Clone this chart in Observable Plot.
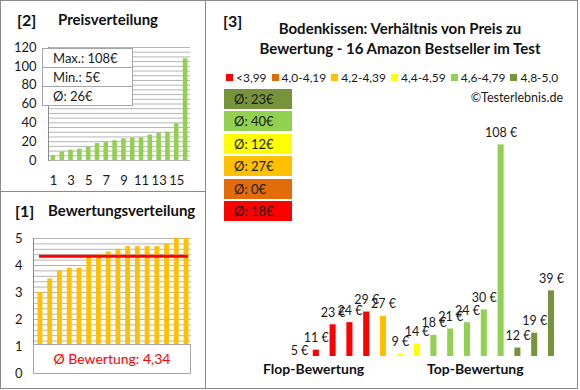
<!DOCTYPE html>
<html><head><meta charset="utf-8">
<script src="https://cdn.jsdelivr.net/npm/d3@7"></script>
<script src="https://cdn.jsdelivr.net/npm/@observablehq/plot@0.6"></script>
<style>
body{margin:0;background:#fff;font-family:Lato,sans-serif;color:#1a1a1a}
#root{position:relative;width:580px;height:390px;overflow:hidden;background:#fff}
.panel{position:absolute;box-sizing:border-box;border:1px solid #8a8a8a}
.abs{position:absolute;white-space:nowrap;line-height:1}
.title{font-weight:bold;font-size:15px;color:#111}
#root svg{position:absolute}
.stats{position:absolute;left:42px;top:48px;width:91px;box-sizing:border-box;background:#fff;border:1px solid #a6a6a6;font-size:13px}
.stats div{height:18px;line-height:18px;padding-left:10px;border-bottom:1px solid #a6a6a6}
.stats div:last-child{border-bottom:none}
.meanbox{position:absolute;left:33px;top:344px;width:158px;height:30px;box-sizing:border-box;background:#fff;border:1px solid #a6a6a6;color:#FF0000;font-size:14px;text-align:center;line-height:28px}
.legend{position:absolute;left:226px;top:71px;display:flex;gap:5px;font-size:12px;line-height:14px;white-space:nowrap}
.legend span.sw{display:inline-block;width:7px;height:7px;margin-right:3px;vertical-align:1px}
.avgs{position:absolute;left:224px;top:89px;width:68px}
.avgs div{height:20px;line-height:20px;margin-bottom:2.4px;padding-left:10px;font-size:13px;color:#1a1a1a}
</style></head><body><div id="root"></div>
<script>
// ---- data ----
const ratings = [3.0, 3.5, 3.8, 3.9, 3.9, 4.3, 4.4, 4.5, 4.6, 4.7, 4.7, 4.7, 4.7, 4.8, 5.0, 5.0];
const prices  = [5, 11, 23, 24, 29, 27, 9, 14, 18, 21, 24, 30, 108, 12, 19, 39];
const classLabels = ["<3,99", "4,0-4,19", "4,2-4,39", "4,4-4,59", "4,6-4,79", "4,8-5,0"];
const classLower  = [0, 4.0, 4.2, 4.4, 4.6, 4.8];
const classColors = ["#FF0000", "#E36C0A", "#FFC000", "#FFFF00", "#92D050", "#77933C"];
const priceTicks  = [0, 20, 40, 60, 80, 100, 120];
const ratingTicks = [0, 1, 2, 3, 4, 5];
const rankTicks   = [1, 3, 5, 7, 9, 11, 13, 15];
const sideLabels  = ["Flop-Bewertung", "Top-Bewertung"];

// ---- derived ----
const n = prices.length;
const ranks = d3.range(1, n + 1);
const pricesSorted = prices.slice().sort(d3.ascending);
const ratingsSorted = ratings.slice().sort(d3.ascending);
const classOf = r => d3.max(classLower.map((l, i) => r >= l - 1e-9 ? i : -1));
const products = prices.map((p, i) => ({i, price: p, rating: ratings[i], cls: classOf(ratings[i])}));
const classAvg = classLabels.map((_, c) => {
  const v = products.filter(d => d.cls === c).map(d => d.price);
  return v.length ? Math.round(d3.mean(v)) : 0;
});
const priceMax = d3.max(prices), priceMin = d3.min(prices), priceMean = Math.round(d3.mean(prices));
const ratingMean = d3.mean(ratings);

const root = document.getElementById("root");
function add(html) { root.insertAdjacentHTML("beforeend", html); }
function place(el, left, top) { el.style.left = left + "px"; el.style.top = top + "px"; root.appendChild(el); }

// panels
add(`<div class="panel" style="left:0;top:0;width:206px;height:192px"></div>`);
add(`<div class="panel" style="left:0;top:191px;width:206px;height:198px"></div>`);
add(`<div class="panel" style="left:205px;top:0;width:373px;height:389px"></div>`);

const font = {fontFamily: "Lato, sans-serif", fontSize: "13px", color: "#1a1a1a", background: "transparent", overflow: "visible"};

// [2] Preisverteilung
const chart2 = Plot.plot({
  width: 205, height: 190, marginLeft: 48, marginRight: 15, marginTop: 47, marginBottom: 30,
  style: font,
  x: {type: "band", domain: ranks, paddingInner: 0.48, paddingOuter: 0.3, round: false, label: null},
  y: {domain: [0, 120], label: null},
  marks: [
    Plot.ruleY(d3.range(0, 121, 5), {stroke: "#b4b4b4"}),
    Plot.barY(pricesSorted.map((p, i) => ({rank: i + 1, price: p})), {x: "rank", y: "price", fill: "#92D050"}),
    Plot.axisY(priceTicks, {tickSize: 0, tickPadding: 12, fontSize: 13, label: null}),
    Plot.axisX(rankTicks, {tickSize: 0, tickPadding: 15, fontSize: 13, label: null}),
    Plot.frame({anchor: "left", stroke: "#8a8a8a"})
  ]
});
place(chart2, 0, 0);
add(`<div class="abs title" style="left:17px;top:12px;font-size:16px">[2]</div>`);
add(`<div class="abs title" style="left:58px;top:12px">Preisverteilung</div>`);
add(`<div class="stats"><div>Max.: ${priceMax}€</div><div>Min.: ${priceMin}€</div><div>Ø: ${priceMean}€</div></div>`);

// [1] Bewertungsverteilung
const chart1 = Plot.plot({
  width: 205, height: 197, marginLeft: 33, marginRight: 14, marginTop: 47, marginBottom: 15,
  style: font,
  x: {type: "band", domain: ranks, paddingInner: 0.5, paddingOuter: 0.26, round: false, insetLeft: 2, axis: null},
  y: {domain: [0, 5], label: null},
  marks: [
    Plot.ruleY(d3.range(0, 5.001, 0.2), {stroke: "#b4b4b4"}),
    Plot.barY(ratingsSorted.map((r, i) => ({rank: i + 1, rating: r})), {x: "rank", y: "rating", fill: "#FFC000"}),
    Plot.ruleY([ratingMean], {stroke: "#FF0000", strokeWidth: 3, insetLeft: 6, insetRight: 3}),
    Plot.axisY(ratingTicks, {tickSize: 0, tickPadding: 11, fontSize: 13, label: null}),
    Plot.frame({anchor: "left", stroke: "#8a8a8a"})
  ]
});
place(chart1, 0, 191);
add(`<div class="abs title" style="left:15px;top:203px;font-size:16px">[1]</div>`);
add(`<div class="abs title" style="left:48px;top:203px">Bewertungsverteilung</div>`);
add(`<div class="meanbox">Ø Bewertung: ${ratingMean.toFixed(2).replace(".", ",")}</div>`);

// [3] Preis zu Bewertung
const chart3 = Plot.plot({
  width: 372, height: 388, marginLeft: 85.6, marginRight: 17.6, marginTop: 119, marginBottom: 32,
  style: font,
  x: {type: "band", domain: d3.range(n), paddingInner: 0.64, paddingOuter: 0.32, round: false, axis: null},
  y: {domain: [8, 120], axis: null},
  marks: [
    Plot.barY(products, {x: "i", y: "price", fill: d => classColors[d.cls], clip: true}),
    Plot.text(products, {x: "i", y: "price", text: d => `${d.price} €`, dy: -12, fontSize: 12.5, fill: "#1a1a1a"})
  ]
});
place(chart3, 205, 0);
add(`<div class="abs title" style="left:223px;top:13px;font-size:16px">[3]</div>`);
add(`<div class="abs title" style="left:240px;top:18px;width:320px;text-align:center;line-height:20px">Bodenkissen: Verhältnis von Preis zu<br>Bewertung - 16 Amazon Bestseller im Test</div>`);
add(`<div class="legend">${classLabels.map((l, i) => `<div><span class="sw" style="background:${classColors[i]}"></span>${l}</div>`).join("")}</div>`);
add(`<div class="abs" style="left:450px;top:92px;width:113px;text-align:right;font-size:12.5px">©Testerlebnis.de</div>`);
add(`<div class="avgs">${classLabels.map((_, i) => i).reverse().map(i => `<div style="background:${classColors[i]}">Ø: ${classAvg[i]}€</div>`).join("")}</div>`);
add(`<div class="abs title" style="left:263px;top:362px;font-size:14px">${sideLabels[0]}</div>`);
add(`<div class="abs title" style="left:427px;top:362px;font-size:14px">${sideLabels[1]}</div>`);
</script></body></html>
